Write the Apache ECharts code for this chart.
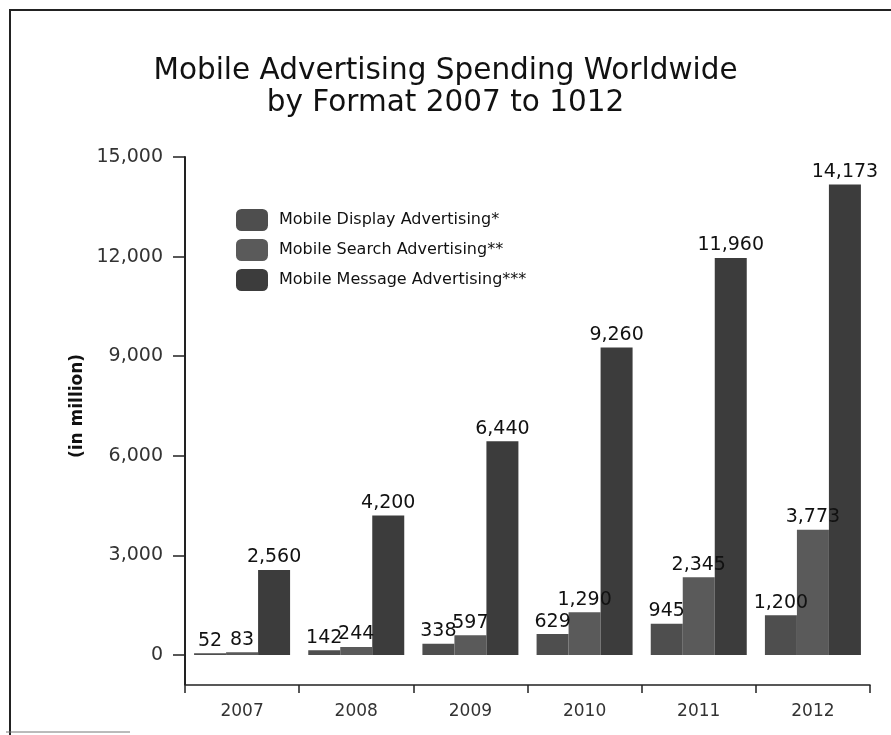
<!DOCTYPE html>
<html>
<head>
<meta charset="utf-8">
<script src="https://cdn.jsdelivr.net/npm/echarts@6/dist/echarts.min.js"></script>
<style>
  html, body { margin: 0; padding: 0; background: #fff; }
  #chart { width: 891px; height: 735px; }
</style>
</head>
<body>
<div id="chart"></div>
<script>
// 数据
var years = ['2007', '2008', '2009', '2010', '2011', '2012'];
var displayAds = [52, 142, 338, 629, 945, 1200];
var searchAds = [83, 244, 597, 1290, 2345, 3773];
var messageAds = [2560, 4200, 6440, 9260, 11960, 14173];
var seriesNames = ['Mobile Display Advertising*', 'Mobile Search Advertising**', 'Mobile Message Advertising***'];

var chart = echarts.init(document.getElementById('chart'));

function fmt(v) {
    return v.toLocaleString('en-US');
}

var labelStyle = {
    show: true,
    position: 'top',
    distance: 3,
    color: '#111',
    fontFamily: 'DejaVu Sans',
    fontSize: 19,
    formatter: function (p) { return fmt(p.value); }
};

var option = {
    backgroundColor: '#fff',
    animation: false,
    title: {
        text: 'Mobile Advertising Spending Worldwide\nby Format 2007 to 1012',
        left: 'center',
        top: 50,
        textStyle: {
            fontFamily: 'DejaVu Sans',
            fontSize: 29.5,
            fontWeight: 'normal',
            color: '#111',
            lineHeight: 32
        }
    },
    legend: {
        orient: 'vertical',
        left: 231,
        top: 204,
        itemWidth: 32,
        itemHeight: 22,
        itemGap: 8,
        icon: 'roundRect',
        textStyle: {
            fontFamily: 'DejaVu Sans',
            fontSize: 16,
            color: '#111',
            padding: [0, 0, 0, 6]
        },
        data: seriesNames
    },
    grid: {
        left: 185,
        right: 21,
        top: 157,
        bottom: 80
    },
    xAxis: {
        type: 'category',
        data: years,
        offset: 30,
        axisLine: { onZero: false, lineStyle: { color: '#222', width: 1.5 } },
        axisTick: { show: true, length: 8, lineStyle: { color: '#222', width: 1.5 } },
        axisLabel: {
            margin: 18,
            fontFamily: 'DejaVu Sans',
            fontSize: 17,
            color: '#333'
        }
    },
    yAxis: {
        type: 'value',
        min: 0,
        max: 15000,
        interval: 3000,
        name: '(in million)',
        nameLocation: 'middle',
        nameGap: 92,
        nameTextStyle: {
            fontFamily: 'DejaVu Sans',
            fontSize: 17,
            fontWeight: 'bold',
            color: '#111'
        },
        axisLine: { show: true, lineStyle: { color: '#222', width: 2 } },
        axisTick: { show: true, length: 12, lineStyle: { color: '#222', width: 1.5 } },
        splitLine: { show: false },
        axisLabel: {
            margin: 22,
            fontFamily: 'DejaVu Sans',
            fontSize: 19,
            color: '#333',
            formatter: function (v) { return fmt(v); }
        }
    },
    series: [{
        name: seriesNames[0],
        type: 'bar',
        barWidth: 32,
        barGap: '0%',
        itemStyle: { color: '#4e4e4e' },
        label: labelStyle,
        data: displayAds
    }, {
        name: seriesNames[1],
        type: 'bar',
        barWidth: 32,
        barGap: '0%',
        itemStyle: { color: '#5a5a5a' },
        label: labelStyle,
        data: searchAds
    }, {
        name: seriesNames[2],
        type: 'bar',
        barWidth: 32,
        barGap: '0%',
        itemStyle: { color: '#3c3c3c' },
        label: labelStyle,
        data: messageAds
    }]
};
chart.setOption(option);

// 边框和延长的y轴线
var zeroPt = chart.convertToPixel({ gridIndex: 0 }, [0, 0]);
chart.setOption({
    graphic: [{
        type: 'polyline',
        shape: { points: [[10, 735], [10, 10], [891, 10]] },
        style: { stroke: '#222', lineWidth: 2, fill: null }
    }, {
        type: 'line',
        shape: { x1: 6, y1: 732, x2: 130, y2: 732 },
        style: { stroke: '#777', lineWidth: 1 }
    }, {
        type: 'line',
        shape: { x1: 185, y1: zeroPt[1], x2: 185, y2: zeroPt[1] + 30 },
        style: { stroke: '#222', lineWidth: 2 }
    }]
});
</script>
</body>
</html>
